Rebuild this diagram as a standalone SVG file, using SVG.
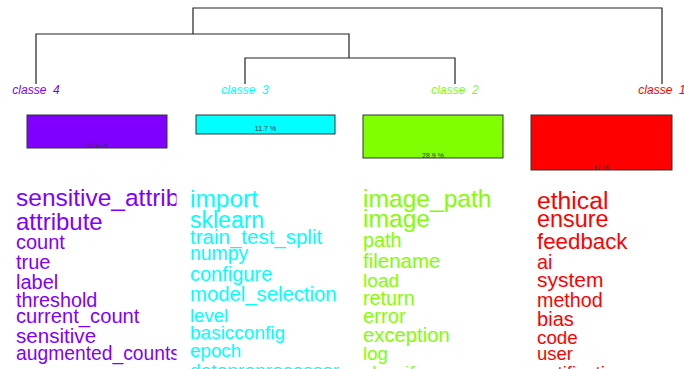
<svg xmlns="http://www.w3.org/2000/svg" width="684" height="369" viewBox="0 0 684 369">
<style>
.ln{fill:none;stroke:#222;stroke-width:1.2}
.lab{font-family:"Liberation Sans",Arial,sans-serif;font-style:italic;font-size:12px;text-anchor:middle;white-space:pre}
.bx{stroke:#333;stroke-width:1}
.pc{font-family:"Liberation Sans",Arial,sans-serif;font-size:7px;fill:#333;text-anchor:middle}
.w{font-family:"Liberation Sans",Arial,sans-serif}
.c4{fill:#8000FF}.c3{fill:#00FFFF}.c2{fill:#80FF00}.c1{fill:#FF0000}
</style>
<defs>
<clipPath id="clip4"><rect x="0" y="170" width="176.5" height="199"/></clipPath>
</defs>
<rect width="684" height="369" fill="#fff"/>
<g id="connectors">
<path class="ln" d="M193,34 V8 H662 V84"/>
<path class="ln" d="M36,84 V34 H349 V58"/>
<path class="ln" d="M245,84 V58 H455 V84"/>
</g>
<g id="classe4">
<text class="lab c4" x="36" y="94">classe  4</text>
<rect class="bx" x="27" y="115" width="140" height="33" fill="#8000FF"/>
<text class="pc" x="97" y="148">22.4 %</text>
<g clip-path="url(#clip4)">
<text class="w c4" x="16" y="206" font-size="24.5">sensitive_attrib</text>
<text class="w c4" x="16" y="230" font-size="24">attribute</text>
<text class="w c4" x="16" y="249" font-size="20">count</text>
<text class="w c4" x="16" y="269" font-size="20">true</text>
<text class="w c4" x="16" y="289" font-size="20">label</text>
<text class="w c4" x="16" y="307" font-size="19.8">threshold</text>
<text class="w c4" x="16" y="323" font-size="20.2">current_count</text>
<text class="w c4" x="16" y="343" font-size="20.6">sensitive</text>
<text class="w c4" x="16" y="360" font-size="19.3">augmented_counts</text>
</g>
</g>
<g id="classe3">
<text class="lab c3" x="245" y="94">classe  3</text>
<rect class="bx" x="196" y="115" width="139" height="19" fill="#00FFFF"/>
<text class="pc" x="265.5" y="131">11.7 %</text>
<text class="w c3" x="190" y="207" font-size="24.5">import</text>
<text class="w c3" x="190" y="228" font-size="23">sklearn</text>
<text class="w c3" x="190" y="244" font-size="20.5">train_test_split</text>
<text class="w c3" x="190" y="260" font-size="19.4">numpy</text>
<text class="w c3" x="190" y="281" font-size="20">configure</text>
<text class="w c3" x="190" y="301" font-size="20.3">model_selection</text>
<text class="w c3" x="190" y="321.5" font-size="18.5">level</text>
<text class="w c3" x="190" y="339" font-size="19">basicconfig</text>
<text class="w c3" x="190" y="356.5" font-size="18.8">epoch</text>
<text class="w c3" x="190" y="376.5" font-size="19.2">datapreprocessor</text>
</g>
<g id="classe2">
<text class="lab c2" x="455" y="94">classe  2</text>
<rect class="bx" x="363" y="115" width="140" height="43" fill="#80FF00"/>
<text class="pc" x="433" y="158">28.9 %</text>
<text class="w c2" x="363" y="207" font-size="24.6">image_path</text>
<text class="w c2" x="363" y="227" font-size="24.6">image</text>
<text class="w c2" x="363" y="247" font-size="19.8">path</text>
<text class="w c2" x="363" y="268" font-size="20.5">filename</text>
<text class="w c2" x="363" y="287" font-size="19.2">load</text>
<text class="w c2" x="363" y="305" font-size="19.8">return</text>
<text class="w c2" x="363" y="323" font-size="20.2">error</text>
<text class="w c2" x="363" y="342" font-size="20.3">exception</text>
<text class="w c2" x="363" y="360" font-size="18.6">log</text>
<text class="w c2" x="363" y="378.5" font-size="18.6">classify</text>
</g>
<g id="classe1">
<text class="lab c1" x="662" y="94">classe  1</text>
<rect class="bx" x="531" y="115" width="141" height="55" fill="#FF0000"/>
<text class="pc" x="601" y="170">37 %</text>
<text class="w c1" x="537" y="208.5" font-size="24.7">ethical</text>
<text class="w c1" x="537" y="227" font-size="23.4">ensure</text>
<text class="w c1" x="537" y="248.5" font-size="22.3">feedback</text>
<text class="w c1" x="537" y="269" font-size="19.8">ai</text>
<text class="w c1" x="537" y="287" font-size="21">system</text>
<text class="w c1" x="537" y="307" font-size="19.7">method</text>
<text class="w c1" x="537" y="326" font-size="20.1">bias</text>
<text class="w c1" x="537" y="343.5" font-size="18.8">code</text>
<text class="w c1" x="537" y="359.5" font-size="18.5">user</text>
<text class="w c1" x="537" y="378.5" font-size="18.5">notification</text>
</g>
</svg>
